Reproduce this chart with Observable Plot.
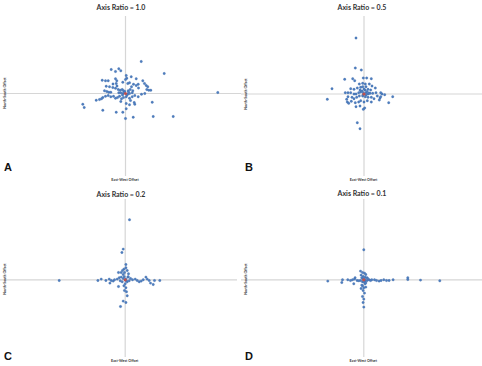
<!DOCTYPE html>
<html>
<head>
<meta charset="utf-8">
<script src="https://cdn.jsdelivr.net/npm/d3@7"></script>
<script src="https://cdn.jsdelivr.net/npm/@observablehq/plot@0.6"></script>
<style>
  html, body { margin: 0; padding: 0; background: #fff; }
  #fig { position: relative; width: 482px; height: 366px; overflow: hidden; font-family: Lato, "Open Sans", sans-serif; }
  .panel { position: absolute; }
  .lbl { position: absolute; white-space: nowrap; transform: translate(-50%, -50%); color: #404040; }
  .title { font-size: 7px; font-weight: 700; color: #333; }
  .axlab { font-size: 3.6px; font-weight: 700; color: #333; }
  .ylab { transform: translate(-50%, -50%) rotate(-90deg); }
  .letter { font-size: 11px; font-weight: 700; color: #111; font-family: "Liberation Sans", Arial, sans-serif; }
</style>
</head>
<body>
<div id="fig"></div>
<script>
// Panel titles and letters
const titles = ["Axis Ratio = 1.0", "Axis Ratio = 0.5", "Axis Ratio = 0.2", "Axis Ratio = 0.1"];
const letters = ["A", "B", "C", "D"];
const xLabel = "East-West Offset";
const yLabel = "North-South Offset";

// Offsets [east-west, north-south] for each axis ratio
const ratio10 = [
  [15.7,32],[38.7,20],[-14.3,24],[-10,22],[-6.7,24.7],[-4.7,22.7],[0.7,18],[1.3,15.3],[0,14],[5.7,16.7],
  [10.7,14.7],[-23.3,13.3],[-20,12.7],[-17.3,12.7],[-10,14.7],[-8.7,12.7],[-9.3,10],[-2.7,11.3],[2.3,10],[4,10.7],
  [8,9.3],[10.7,8],[12.7,9.3],[17.3,12.7],[19,10],[20.7,8],[22.3,6.7],[21.3,4],[23.3,3.3],[25.3,3.3],
  [-19.3,7.3],[-16,6.7],[-12.7,6],[-21,2.7],[-18.7,2],[-16.7,1.3],[-14.7,1.3],[-10,5.3],[-7.3,4],[-5.3,3.3],
  [-3.3,4],[-2,2.7],[-0.7,2],[2.7,2.7],[4.7,4],[6,6.7],[7.3,2.7],[-6.7,0.7],[-4.7,0.7],[-2.7,-0.3],
  [2,-0.7],[4,0],[6.7,0.7],[-22.7,-4],[-20,-2.7],[-17.3,-2],[-14.7,-3.3],[-29.3,-6.7],[-26,-6],[-24,-5.3],
  [-12,-2.7],[-10,-4.7],[-8,-4],[-6,-2.7],[-4,-5.3],[-2,-4],[0.7,-3.3],[4,-4.7],[6.7,-3.3],[9.3,-2],
  [12.7,-3.3],[16,-0.7],[19.3,0],[-42.7,-10.7],[-41.3,-14],[-22.7,-16.7],[-4.7,-8],[0.7,-10],[4,-11.3],[8.7,-9],
  [9.3,-10.7],[26.7,-8.7],[-9.3,-18.7],[-2.7,-18.7],[0.7,-15.3],[0,-25],[7.7,-23.7],[27.7,-23],[47.7,-23],[92.3,1],
  [-1.5,1],[1.5,-1.5],[-3,-1.5],[3,1.5],[-8.5,7.5],[13,5.5],[-12.5,9.5],[5,-7]
];
const ratio05 = [
  [-8,56],[-8.7,26],[-2.7,24],[-19.3,14.7],[-11.3,15.3],[-9.3,13.3],[-0.7,16],[2.7,16],[7.3,15.3],[-4.7,10],
  [-1.3,10.7],[1.3,10],[5.3,10],[8,8],[11.3,6],[-13.3,5.3],[-10,4.7],[-6.7,6],[-3.3,6.7],[-1.3,7.3],
  [2,7.3],[4,4.7],[6.7,4],[-32,5.3],[-18.7,1.3],[-16,1.3],[-13.3,1.3],[-10,0],[-8,0],[-5.3,1.3],
  [-3.3,2],[-0.7,1.3],[2,1.3],[4,0],[6,0.7],[8.7,0.7],[12,1.3],[16.7,1.3],[18,0],[20.7,-0.7],
  [-36.7,-5.3],[-16,-2.7],[-17.3,-5.3],[-16.7,-8],[-15.3,-9.3],[-12,-3.3],[-10,-4.7],[-7.3,-3.3],[-4.7,-2],[-1.3,-2],
  [1.3,-2.7],[4,-3.3],[7.3,-3.3],[10,-4.7],[13.3,-2],[16,-4],[15.3,-6],[16.7,-2.7],[24.7,-8.7],[28.7,-2.7],
  [-12.7,-7.3],[-8.7,-8.7],[-5.3,-8],[-3.3,-6.7],[0,-8],[3.3,-6.7],[7.3,-8],[-8,-12.7],[-4,-12],[-0.7,-15.3],
  [0.7,-14],[-6.7,-28.7],[-4,-34.7],[-2,3],[1,4],[3,2.5],[-1,-1],[2,-1],[5,1],[-4,4],[0,5]
];
const ratio02 = [
  [4.3,60],[-2,30.7],[-3.3,27.3],[0.7,15.3],[-1.3,10.7],[0.7,12],[2,9.3],[-2.7,9.3],[-0.7,7.3],[-4,7.3],
  [3.3,6],[-2,5.3],[-6.7,7.3],[-66,-0.7],[-27.3,-0.7],[-24,0.7],[-19.3,-0.7],[-16,0.7],[-14,-0.7],[-12,-1.3],
  [-10.7,0],[-15.3,-3.3],[-8,0.7],[-6,2],[-4,2.7],[-2,1.3],[0.7,0.7],[2.7,2.7],[5.3,1.3],[7.3,0],
  [10,0.7],[12,-0.7],[14,-2],[16,-1.3],[18,0],[20.7,2.7],[22,0.7],[24,-0.7],[25.3,-3.3],[28,-4.7],
  [29.3,-0.7],[34.6,-0.7],[-6.7,-6.7],[0,-4],[-1.3,-6],[0.7,-8],[-0.7,-10.7],[1.3,-12],[2,-16],[-2,-21.3],
  [0.7,-22.7],[-4.7,-26.7],[-3,-2],[2,-2],[-1,3],[4,-1],[1,-1],[-5,-1],[3,3]
];
const ratio01 = [
  [0,30],[-36,-1.3],[-21.3,0],[-22,-2.7],[-16,0],[-13.3,-0.7],[-11.3,0],[-9.3,0.7],[-8.7,2],[-10,-4],
  [-6.7,-0.7],[-3.3,8.7],[-1.3,7.3],[0.7,6.7],[2,5.3],[-2.7,4.7],[-0.7,3.3],[1.3,2.7],[3.3,2],[-3.3,-0.7],
  [-1.3,-2],[1.3,-1.3],[3.3,-0.7],[5.3,0],[6.7,-0.7],[10.7,0],[12.7,-0.7],[15.3,-1.3],[17.3,-0.7],[20,0],
  [22.7,-0.7],[25.3,-0.7],[29.3,0],[44,0.3],[44,2],[56.7,-0.3],[76,-1],[-1.3,-6],[0,-8],[-0.7,-10.7],
  [0.7,-13.3],[-1.3,-16.7],[0,-19.3],[-0.7,-22.7],[0,-27.3],[1.3,-4],[-2,-5.3],[2,-7.3],[-2.7,-8.7],[-1,1],
  [1,0.5],[0,-2],[-2,2],[2,-3],[4,1],[-5,-1],[8,0]
];
const seriesList = [ratio10, ratio05, ratio02, ratio01];

// Layout of the four panels: plot box, its offset range, and text placement
const panels = [
  {left: 0,   top: 16,  width: 241, height: 160, x: [-125, 116],     y: [-83, 77],     titleY: 7,   letterY: 167},
  {left: 241, top: 16,  width: 241, height: 160, x: [-122.5, 118.5], y: [-82.5, 77.5], titleY: 7,   letterY: 167},
  {left: 0,   top: 199, width: 237, height: 158, x: [-124.7, 112.3], y: [-77.7, 80.3], titleY: 194, letterY: 356},
  {left: 241, top: 199, width: 241, height: 158, x: [-122.3, 118.7], y: [-77.7, 80.3], titleY: 193, letterY: 356}
];

const fig = document.getElementById("fig");

function addLabel(cls, text, x, y) {
  const d = document.createElement("div");
  d.className = "lbl " + cls;
  d.textContent = text;
  d.style.left = x + "px";
  d.style.top = y + "px";
  fig.appendChild(d);
}

panels.forEach((p, i) => {
  const pts = seriesList[i].map(([x, y]) => ({x, y}));
  const chart = Plot.plot({
    width: p.width,
    height: p.height,
    margin: 0,
    x: {domain: p.x, axis: null},
    y: {domain: p.y, axis: null},
    marks: [
      Plot.ruleY([0], {stroke: "#d6d6d6", strokeWidth: 1.2}),
      Plot.ruleX([0], {stroke: "#d6d6d6", strokeWidth: 1.2}),
      Plot.dot(pts, {x: "x", y: "y", r: 1.2, fill: "#4f7fc0", stroke: "#3a67a8", strokeWidth: 0.3}),
      Plot.dot([{x: 0, y: 0}], {x: "x", y: "y", r: 1.6, fill: "#c0504d"})
    ]
  });
  chart.classList.add("panel");
  chart.style.left = p.left + "px";
  chart.style.top = p.top + "px";
  chart.style.background = "transparent";
  fig.appendChild(chart);

  // panel texts, centred on the zero lines
  const cx = p.left + (0 - p.x[0]) / (p.x[1] - p.x[0]) * p.width;
  const cy = p.top + (p.y[1] - 0) / (p.y[1] - p.y[0]) * p.height;
  addLabel("title", titles[i], p.left + 121, p.titleY);
  addLabel("axlab", xLabel, cx, p.top + p.height + 3);
  addLabel("axlab ylab", yLabel, p.left + 4, cy);
  addLabel("letter", letters[i], p.left + 8, p.letterY);
});
</script>
</body>
</html>
